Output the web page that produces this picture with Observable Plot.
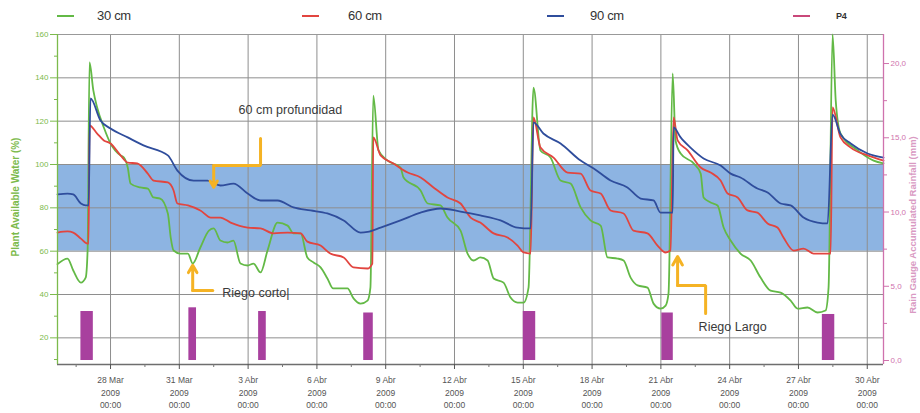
<!DOCTYPE html>
<html><head><meta charset="utf-8">
<script src="https://cdn.jsdelivr.net/npm/d3@7"></script>
<script src="https://cdn.jsdelivr.net/npm/@observablehq/plot@0.6"></script>
<style>
body{margin:0;background:#fff;}
#wrap{position:relative;width:920px;height:413px;overflow:hidden;font-family:"Liberation Sans",Arial,sans-serif;}
#wrap svg{position:absolute;left:0;top:0;}
.sw{position:absolute;top:15px;height:2px;width:17px;}
.lt{position:absolute;top:8px;font-size:13px;color:#333;letter-spacing:-0.3px;}
.ylab{position:absolute;transform:translate(-50%,-50%) rotate(-90deg);white-space:nowrap;font-weight:bold;}
</style></head><body><div id="wrap"></div>
<script>
// ---------- data ----------
const seriesNames = ["30 cm", "60 cm", "90 cm", "P4"];
const seriesColors = ["#63b946", "#e2453f", "#2f4d9c", "#a8409e"];

// 30 cm (Plant Available Water %)
const s30 = [["03-25 16:30",54],["03-26 03:00",56.6],["03-26 09:00",51.1],["03-26 17:00",45.5],["03-26 22:00",47.8],["03-27 00:00",60.3],["03-27 02:00",147.1],["03-27 06:00",134.2],["03-27 10:00",126.3],["03-27 17:00",117.1],["03-28 00:00",109.7],["03-28 10:30",104.2],["03-28 14:00",103.2],["03-28 18:00",98.6],["03-28 21:00",91.2],["03-29 07:00",89.4],["03-29 15:00",88.9],["03-29 21:00",84.8],["03-30 04:00",84.3],["03-30 12:00",77.4],["03-30 15:00",66.3],["03-30 18:00",60.3],["03-31 01:00",58.9],["03-31 09:00",58.9],["03-31 14:00",54.3],["03-31 22:00",61.7],["04-01 07:00",69.5],["04-01 12:00",70.5],["04-01 19:00",64.9],["04-02 02:30",64],["04-02 08:40",64.9],["04-02 16:00",54.3],["04-02 23:30",53.4],["04-03 05:40",54.3],["04-03 13:00",50.2],["04-03 20:20",60.3],["04-04 06:50",73.2],["04-04 17:20",71.8],["04-04 23:30",68.2],["04-05 07:00",68.2],["04-05 14:00",57.1],["04-05 20:30",54.8],["04-06 03:50",52.5],["04-06 11:00",47.4],["04-06 17:00",42.8],["04-07 08:00",42.8],["04-07 14:20",38.2],["04-07 21:40",35.8],["04-08 05:00",37.2],["04-08 08:00",43.2],["04-08 11:00",131.8],["04-08 16:30",106.5],["04-09 02:00",101.8],["04-09 15:30",98.6],["04-09 18:40",94],["04-10 12:30",88],["04-10 20:00",82],["04-11 09:20",81.1],["04-11 16:40",75.5],["04-12 06:20",69.5],["04-12 13:40",58.9],["04-12 20:00",55.7],["04-13 03:00",57.1],["04-13 10:40",55.7],["04-13 17:00",47.4],["04-14 03:20",45.5],["04-14 10:40",38.6],["04-14 18:00",36.3],["04-15 00:20",36.3],["04-15 05:30",43.2],["04-15 10:40",135.5],["04-15 18:00",106.5],["04-16 04:30",103.2],["04-16 15:00",92.6],["04-17 01:30",91.2],["04-17 12:00",80.2],["04-17 22:20",74.2],["04-18 09:00",71.8],["04-18 16:10",57.1],["04-19 02:40",56.6],["04-19 09:00",55.7],["04-19 16:20",47.8],["04-19 23:40",44.2],["04-20 10:00",43.2],["04-20 16:20",35.8],["04-20 23:40",33.5],["04-21 05:00",34.9],["04-21 08:00",40.5],["04-21 12:20",142],["04-21 15:20",111.1],["04-21 20:40",105.1],["04-22 10:20",100.5],["04-22 17:40",95.8],["04-22 20:40",84.8],["04-23 04:00",82.5],["04-23 11:20",81.1],["04-23 17:40",70.9],["04-24 01:00",64.9],["04-24 11:20",58.9],["04-24 22:00",55.7],["04-25 08:20",47.8],["04-25 18:50",41.8],["04-26 05:20",40.9],["04-26 15:50",37.2],["04-26 23:00",33.5],["04-27 09:30",34],["04-27 20:00",31.7],["04-28 04:20",32.6],["04-28 07:30",43.2],["04-28 11:40",160],["04-28 15:00",129.5],["04-28 20:00",114.3],["04-29 14:00",106.5],["04-30 06:40",101.8],["04-30 17:00",100.5]];

// 60 cm
const s60 = [["03-25 16:30",68.6],["03-26 03:00",69.1],["03-26 09:00",68.6],["03-26 17:00",65.8],["03-27 00:00",63.5],["03-27 01:00",63.5],["03-27 02:00",118],["03-27 10:00",114.3],["03-27 17:00",111.1],["03-28 00:00",109.7],["03-28 10:30",104.2],["03-28 18:00",100.9],["03-29 04:00",100.5],["03-29 15:00",95.8],["03-29 21:00",92.6],["03-30 12:00",91.7],["03-30 18:00",88],["03-30 22:00",82],["03-31 09:00",81.1],["03-31 22:00",78.8],["04-01 09:00",75.5],["04-01 19:00",75.5],["04-02 05:40",73.2],["04-02 23:30",70.9],["04-03 13:00",70.5],["04-04 02:40",68.2],["04-04 17:20",68.6],["04-05 07:00",68.2],["04-05 14:00",64.4],["04-06 03:50",62.6],["04-06 14:00",58.9],["04-07 04:00",57.1],["04-07 14:20",52.5],["04-08 05:00",52],["04-08 10:00",54.3],["04-08 11:00",112.5],["04-08 18:40",104.2],["04-09 08:00",100.5],["04-09 23:00",96.3],["04-10 12:30",94],["04-11 02:00",89.4],["04-11 16:40",84.8],["04-12 06:20",82],["04-12 16:50",75.5],["04-13 03:00",73.2],["04-13 17:00",68.2],["04-14 07:30",66.3],["04-14 18:00",62.6],["04-15 00:20",59.4],["04-15 07:40",58.9],["04-15 10:40",121.7],["04-15 18:00",107.8],["04-16 07:40",103.2],["04-16 22:20",96.3],["04-17 12:00",95.8],["04-17 22:20",88],["04-18 09:00",86.6],["04-18 19:20",78.8],["04-19 09:00",77.4],["04-19 19:20",69.5],["04-20 10:00",68.2],["04-20 20:30",62.6],["04-21 05:00",59.4],["04-21 10:00",60.3],["04-21 13:20",121.7],["04-21 17:30",111.1],["04-22 04:00",106.5],["04-22 17:40",98.6],["04-23 04:00",96.3],["04-23 14:30",92.6],["04-23 21:50",86.6],["04-24 08:20",84.8],["04-24 18:40",78.8],["04-25 05:00",77.8],["04-25 15:40",72.8],["04-26 02:00",70.9],["04-26 08:20",66.3],["04-26 19:00",60.3],["04-27 05:20",61.2],["04-27 15:50",58.9],["04-28 09:40",58.9],["04-28 11:40",126.3],["04-28 20:00",112.5],["04-29 06:40",107.8],["04-30 00:20",104.2],["04-30 17:00",101.8]];

// 90 cm
const s90 = [["03-25 16:30",86.2],["03-26 03:00",86.6],["03-26 09:00",86.2],["03-26 17:00",82],["03-26 22:00",81.1],["03-27 01:00",81.1],["03-27 03:00",130.5],["03-27 13:30",120.3],["03-28 00:00",116.6],["03-28 18:00",112.5],["03-29 10:30",108.8],["03-30 12:00",104.2],["03-30 22:00",97.2],["03-31 15:00",92.6],["04-01 05:30",92.6],["04-01 19:00",90.3],["04-02 08:40",91.2],["04-02 23:30",86.6],["04-03 13:00",83.4],["04-04 06:50",83.4],["04-04 23:30",80.2],["04-05 17:20",78.8],["04-06 11:00",77.4],["04-07 04:00",74.2],["04-07 21:40",68.6],["04-08 05:00",68.9],["04-08 18:40",70.9],["04-09 15:30",74.2],["04-10 12:30",77.8],["04-11 09:20",79.7],["04-12 06:20",78.3],["04-13 03:00",76.5],["04-14 00:10",74.2],["04-14 18:00",70.9],["04-15 07:40",70.5],["04-15 10:40",119.4],["04-15 21:00",114.3],["04-16 15:00",109.7],["04-17 12:00",101.8],["04-18 01:40",98.2],["04-18 19:20",92.6],["04-19 13:00",89.4],["04-20 02:50",84.3],["04-20 16:20",83.4],["04-20 23:40",77.8],["04-21 12:20",77.8],["04-21 13:20",117.1],["04-21 20:40",112.5],["04-22 07:00",107.8],["04-22 20:40",102.8],["04-23 14:30",99.5],["04-24 01:00",95.8],["04-24 11:20",94],["04-25 05:00",88.9],["04-25 15:40",87.1],["04-26 05:20",82],["04-26 15:50",81.1],["04-27 05:20",75.5],["04-27 20:00",73.2],["04-28 06:30",72.8],["04-28 11:40",123],["04-28 20:00",114],["04-29 06:40",109.7],["04-30 00:20",105.1],["04-30 17:00",103.2]];

// P4 (right axis), [start, end, value]
const p4 = [["03-26 17:00","03-27 06:00",3.3],["03-31 10:00","03-31 18:00",3.55],["04-03 11:00","04-03 19:00",3.3],["04-08 01:00","04-08 11:00",3.2],["04-15 00:00","04-15 13:00",3.3],["04-21 01:00","04-21 13:00",3.2],["04-28 01:00","04-28 14:00",3.1]];

// band of optimum range
const band = [60, 100];

// ticks
const xTicks = ["03-28 00:00","03-31 00:00","04-03 00:00","04-06 00:00","04-09 00:00","04-12 00:00","04-15 00:00","04-18 00:00","04-21 00:00","04-24 00:00","04-27 00:00","04-30 00:00"];
const xMinor = ["03-26 12:00","03-29 12:00","04-01 12:00","04-04 12:00","04-07 12:00","04-10 12:00","04-13 12:00","04-16 12:00","04-19 12:00","04-22 12:00","04-25 12:00","04-28 12:00"];
const monthNames = {2: "Mar", 3: "Abr"};
const leftTicks = [20, 40, 60, 80, 100, 120, 140, 160];
const leftMinor = [10, 30, 50, 70, 90, 110, 130, 150];
const rightTicks = [0, 5, 10, 15, 20];
const rightMinor = [2.5, 7.5, 12.5, 17.5];

// annotations
const notes = [
  {t: "04-02 14:00", v: 125, text: "60 cm profundidad"},
  {t: "04-01 21:00", v: 40.9, text: "Riego corto|"},
  {t: "04-22 15:30", v: 24.8, text: "Riego Largo"}
];
const arrowPaths = [
  [["04-03 13:00",112],["04-03 13:00",99.5],["04-01 12:00",99.5]],
  [["04-01 11:00",41.8],["03-31 14:00",41.8]],
  [["04-22 22:50",31.2],["04-22 22:50",44.2],["04-21 17:30",44.2]]
];
const arrowHeads = [
  ["04-01 12:00",99.5,"04-01 12:00",89.5],
  ["03-31 14:00",41.8,"03-31 14:00",53.5],
  ["04-21 17:30",44.2,"04-21 17:30",57.5]
];

// ---------- scales / helpers ----------
const parse = d3.utcParse("%Y-%m-%d %H:%M");
const T = s => parse("2009-" + s);
const xDomain = [T("03-25 16:30"), T("04-30 17:00")];
const yDomain = [7.7, 160];
const R0 = 9.54, RK = 6.853;            // right axis (P4) -> left scale
const toLeft = v => R0 + RK * v;
const fromLeft = v => (v - R0) / RK;

const rows = arr => arr.map(([t, v]) => ({t: T(t), v}));
const d30 = rows(s30), d60 = rows(s60), d90 = rows(s90);
const dp4 = p4.map(([a, b, v]) => ({a: T(a), b: T(b), v}));

const GREEN_AX = "#7cba4c", PINK_AX = "#cf72ad", GRID = "#8e8e8e", ORANGE = "#f5b324";
const FONT = "Liberation Sans, Arial, sans-serif";

const chart = Plot.plot({
  width: 920, height: 413,
  marginLeft: 57, marginRight: 37, marginTop: 34, marginBottom: 49,
  x: {type: "utc", domain: xDomain},
  y: {domain: yDomain},
  style: {fontFamily: FONT, background: "transparent", overflow: "visible"},
  marks: [
    Plot.rect([band], {y1: d => d[0], y2: d => d[1], fill: "#8db4e2"}),
    Plot.gridY([20, 40, 60, 80, 100, 120, 140], {stroke: GRID, strokeOpacity: 1, strokeWidth: 1}),
    Plot.gridX(xTicks.map(T), {stroke: GRID, strokeOpacity: 1, strokeWidth: 1}),
    Plot.ruleY([yDomain[1]], {stroke: "#999"}),
    Plot.rect(dp4, {x1: "a", x2: "b", y1: () => toLeft(0), y2: d => toLeft(d.v), fill: seriesColors[3]}),
    Plot.line(d30, {x: "t", y: "v", stroke: seriesColors[0], strokeWidth: 1.8, curve: "monotone-x"}),
    Plot.line(d60, {x: "t", y: "v", stroke: seriesColors[1], strokeWidth: 1.8, curve: "monotone-x"}),
    Plot.line(d90, {x: "t", y: "v", stroke: seriesColors[2], strokeWidth: 1.8, curve: "monotone-x"}),
    ...arrowPaths.map(p => Plot.line(p, {x: d => T(d[0]), y: d => d[1], stroke: ORANGE, strokeWidth: 3, strokeLinejoin: "miter"})),
    Plot.arrow(arrowHeads, {x1: d => T(d[0]), y1: d => d[1], x2: d => T(d[2]), y2: d => d[3], stroke: ORANGE, strokeWidth: 3, headLength: 13}),
    Plot.text(notes, {x: d => T(d.t), y: "v", text: "text", textAnchor: "start", fill: "#3a3a3a", fontSize: 12.5, fontFamily: FONT}),
    // axes
    Plot.ruleY([yDomain[0]], {stroke: "#6e6e6e", strokeWidth: 1.6}),
    Plot.ruleX([xDomain[0]], {stroke: GREEN_AX, strokeWidth: 1.3}),
    Plot.ruleX([xDomain[1]], {stroke: PINK_AX, strokeWidth: 1.3}),
    Plot.axisX(xTicks.map(T), {
      tickSize: 5, tickPadding: 5, fontSize: 8.5, lineHeight: 1.45, color: "#555", label: null,
      tickFormat: d => `${d.getUTCDate()} ${monthNames[d.getUTCMonth()]}\n2009\n00:00`
    }),
    Plot.axisX(xMinor.map(T), {tickSize: 3, tickFormat: () => "", color: "#777", label: null}),
    Plot.axisY(leftTicks, {anchor: "left", tickSize: 7, tickPadding: 2, fontSize: 8, color: GREEN_AX, label: null}),
    Plot.axisY(leftMinor, {anchor: "left", tickSize: 3, tickFormat: () => "", color: GREEN_AX, label: null}),
    Plot.axisY(rightTicks.map(toLeft), {anchor: "right", tickSize: 5, tickPadding: 2, fontSize: 8, color: PINK_AX, label: null,
      tickFormat: d => fromLeft(d).toFixed(1).replace(".", ",")}),
    Plot.axisY(rightMinor.map(toLeft), {anchor: "right", tickSize: 3, tickFormat: () => "", color: PINK_AX, label: null})
  ]
});

const wrap = document.getElementById("wrap");
wrap.appendChild(chart);

// legend (top)
const legendX = [[57, 97], [302, 348], [547, 590], [793, 836]];
seriesNames.forEach((name, i) => {
  const sw = document.createElement("div");
  sw.className = "sw";
  sw.style.left = legendX[i][0] + "px";
  sw.style.background = i === 3 ? "#c9487a" : seriesColors[i];
  wrap.appendChild(sw);
  const lt = document.createElement("div");
  lt.className = "lt";
  lt.style.left = legendX[i][1] + "px";
  lt.textContent = name;
  if (i === 3) { lt.style.fontSize = "9px"; lt.style.fontWeight = "bold"; lt.style.top = "11px"; }
  wrap.appendChild(lt);
});

// axis titles
const yl = document.createElement("div");
yl.className = "ylab";
yl.style.left = "15px"; yl.style.top = "197px";
yl.style.fontSize = "10px"; yl.style.color = GREEN_AX;
yl.textContent = "Plant Available Water (%)";
wrap.appendChild(yl);

const yr = document.createElement("div");
yr.className = "ylab";
yr.style.left = "912px"; yr.style.top = "225px";
yr.style.fontSize = "9.5px"; yr.style.color = "#d99ac3";
yr.textContent = "Rain Gauge Accumulated Rainfall (mm)";
wrap.appendChild(yr);
</script>
</body></html>
